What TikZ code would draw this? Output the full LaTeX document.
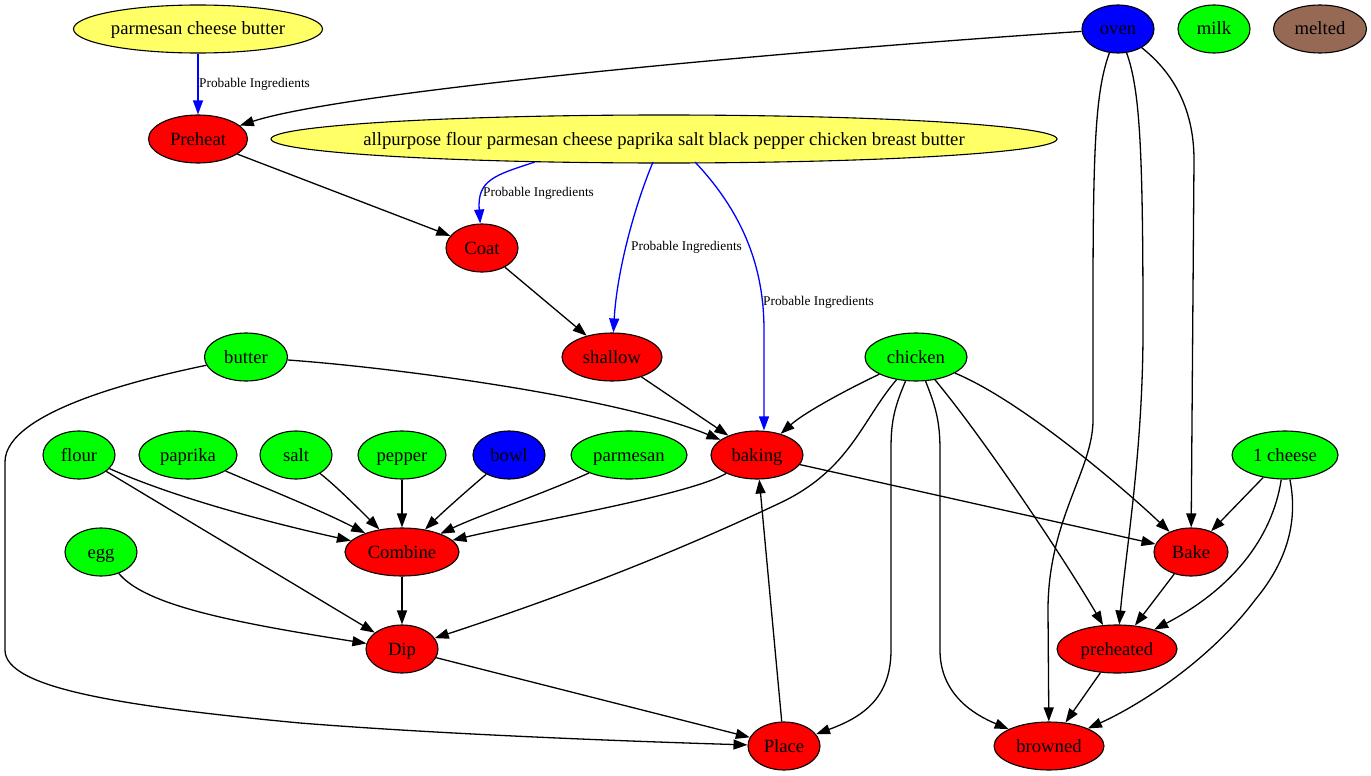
\documentclass[tikz,border=0pt]{standalone}
\usepackage{fontspec}
\setmainfont{Liberation Serif}
\usetikzlibrary{shapes.geometric,arrows.meta}
\definecolor{yel}{RGB}{255,255,102}
\definecolor{brn}{RGB}{150,105,85}
\newcommand{\Tx}[1]{\makebox[0pt]{#1}}
\begin{document}
\begin{tikzpicture}[x=1pt,y=-1pt,
  nd/.style={ellipse,draw=black,line width=1.1pt,minimum height=48pt,inner sep=0pt,text height=16pt,text depth=4pt,font=\fontsize{18.67}{22}\selectfont},
  rd/.style={nd,fill=red},
  gr/.style={nd,fill=green},
  bl/.style={nd,fill=blue},
  yl/.style={nd,fill=yel},
  ed/.style={-{Triangle[length=14pt,width=10pt]},line width=1.3pt,black},
  pe/.style={ed,blue},
  lbl/.style={anchor=west,inner sep=0pt,font=\fontsize{13.33}{15}\selectfont}]
\useasboundingbox (0,0) rectangle (1371,776);
% nodes
\node[yl,minimum width=249pt] (pcb) at (198,29) {\Tx{parmesan cheese butter}};
\node[bl,minimum width=72pt] (oven) at (1118,29) {\Tx{oven}};
\node[gr,minimum width=72pt] (milk) at (1214,29) {\Tx{milk}};
\node[nd,fill=brn,minimum width=93pt] (melted) at (1320,29) {\Tx{melted}};
\node[rd,minimum width=99pt] (preheat) at (198,139) {\Tx{Preheat}};
\node[yl,minimum width=786pt] (allp) at (664,139) {\Tx{allpurpose flour parmesan cheese paprika salt black pepper chicken breast butter}};
\node[rd,minimum width=72pt] (coat) at (482,248) {\Tx{Coat}};
\node[rd,minimum width=100pt] (shallow) at (612,357) {\Tx{shallow}};
\node[gr,minimum width=83pt] (butter) at (246,357) {\Tx{butter}};
\node[gr,minimum width=102pt] (chicken) at (916,357) {\Tx{chicken}};
\node[gr,minimum width=72pt] (flour) at (79,455) {\Tx{flour}};
\node[gr,minimum width=98pt] (paprika) at (188,455) {\Tx{paprika}};
\node[gr,minimum width=72pt] (salt) at (296,455) {\Tx{salt}};
\node[gr,minimum width=88pt] (pepper) at (402,455) {\Tx{pepper}};
\node[bl,minimum width=72pt] (bowl) at (509,455) {\Tx{bowl}};
\node[gr,minimum width=116pt] (parmesan) at (629,455) {\Tx{parmesan}};
\node[rd,minimum width=92pt] (baking) at (757,455) {\Tx{baking}};
\node[gr,minimum width=106pt] (cheese) at (1285,455) {\Tx{1 cheese}};
\node[gr,minimum width=72pt] (egg) at (101,552) {\Tx{egg}};
\node[rd,minimum width=114pt] (combine) at (402,552) {\Tx{Combine}};
\node[rd,minimum width=74pt] (bake) at (1191,552) {\Tx{Bake}};
\node[rd,minimum width=72pt] (dip) at (402,649) {\Tx{Dip}};
\node[rd,minimum width=120pt] (preheated) at (1117,649) {\Tx{preheated}};
\node[rd,minimum width=72pt] (place) at (784,746) {\Tx{Place}};
\node[rd,minimum width=110pt] (browned) at (1049,746) {\Tx{browned}};
% blue edges
\draw[pe] (pcb) -- (preheat);
\node[lbl] (l1) at (199,84) {Probable Ingredients};
\draw[pe] (535,162) .. controls (495,175) and (477,180) .. (coat);
\node[lbl] (l2) at (483,193) {Probable Ingredients};
\draw[pe] (653,162) .. controls (635,205) and (617,270) .. (shallow);
\node[lbl] (l3) at (631,247) {Probable Ingredients};
\draw[pe] (695,162) .. controls (745,215) and (764,270) .. (764,330) -- (baking.north -| 764,0);
\node[lbl] (l4) at (763,302) {Probable Ingredients};
% black edges
\draw[ed] (oven) .. controls (800,50) and (350,90) .. (preheat);
\draw[ed] (preheat) -- (coat);
\draw[ed] (coat) -- (shallow);
\draw[ed] (shallow) -- (baking);
\draw[ed] (butter) .. controls (400,368) and (620,398) .. (baking);
\draw[ed] (butter) .. controls (150,377) and (5,410) .. (5,462) -- (5,650) .. controls (5,688) and (120,706) .. (300,723) .. controls (450,735) and (650,742) .. (place);
\draw[ed] (chicken) .. controls (850,388) and (805,412) .. (baking);
\draw[ed] (chicken) .. controls (862,420) and (850,470) .. (780,503) .. controls (640,569) and (520,610) .. (dip);
\draw[ed] (chicken) .. controls (893,410) and (891,425) .. (891,450) -- (891,650) .. controls (891,700) and (860,718) .. (place);
\draw[ed] (chicken) .. controls (935,405) and (940,420) .. (940,450) -- (940,650) .. controls (940,695) and (975,715) .. (browned);
\draw[ed] (chicken) .. controls (985,440) and (1065,560) .. (preheated);
\draw[ed] (chicken) .. controls (1020,400) and (1120,485) .. (bake);
\draw[ed] (oven) .. controls (1096,90) and (1093,140) .. (1093,300) -- (1093,420) .. controls (1093,470) and (1048,520) .. (1048,610) -- (browned);
\draw[ed] (oven) .. controls (1140,90) and (1143,150) .. (1143,330) .. controls (1143,450) and (1126,550) .. (preheated);
\draw[ed] (oven) .. controls (1170,70) and (1194,105) .. (1194,160) -- (bake);
\draw[ed] (baking) -- (bake);
\draw[ed] (baking) .. controls (690,495) and (530,522) .. (combine);
\draw[ed] (flour) .. controls (180,500) and (280,525) .. (combine);
\draw[ed] (flour) -- (dip);
\draw[ed] (paprika) .. controls (270,490) and (320,510) .. (combine);
\draw[ed] (salt) .. controls (335,485) and (360,510) .. (combine);
\draw[ed] (pepper) -- (combine);
\draw[ed] (bowl) .. controls (470,488) and (445,510) .. (combine);
\draw[ed] (parmesan) .. controls (540,495) and (480,515) .. (combine);
\draw[ed] (cheese) -- (bake);
\draw[ed] (cheese) .. controls (1272,540) and (1230,590) .. (preheated);
\draw[ed] (cheese) .. controls (1300,530) and (1280,570) .. (1255,600) .. controls (1210,660) and (1140,705) .. (browned);
\draw[ed] (bake) -- (preheated);
\draw[ed] (preheated) -- (browned);
\draw[ed] (combine) -- (dip);
\draw[ed] (egg) .. controls (145,605) and (230,622) .. (dip);
\draw[ed] (dip) -- (place);
\draw[ed] (place) -- (baking);
\end{tikzpicture}
\end{document}
